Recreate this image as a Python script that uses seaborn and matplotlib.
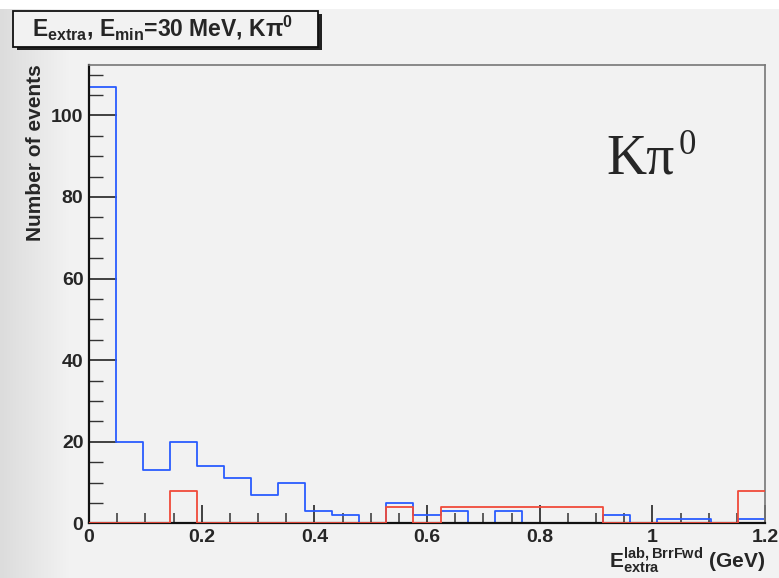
import numpy as np
import pandas as pd
import matplotlib
matplotlib.use("Agg")
import matplotlib.pyplot as plt
import seaborn as sns
from matplotlib.patches import Rectangle
from matplotlib.ticker import MultipleLocator, FixedLocator

# ---- data (25 bins of 0.048 GeV from 0 to 1.2) ----
bin_edges = [round(0.048 * i, 3) for i in range(26)]
blue_counts = [107, 20, 13, 20, 14, 11, 7, 10, 3, 2, 0, 5, 2, 3, 0, 3, 0, 0, 0, 2, 0, 1, 1, 0, 1]
red_counts = [0, 0, 0, 8, 0, 0, 0, 0, 0, 0, 0, 4, 0, 4, 4, 4, 4, 4, 4, 0, 0, 0, 0, 0, 8]
x_ticks = [0, 0.2, 0.4, 0.6, 0.8, 1.0, 1.2]
x_tick_labels = ["0", "0.2", "0.4", "0.6", "0.8", "1", "1.2"]
y_ticks = [0, 20, 40, 60, 80, 100]

edges_arr = np.array(bin_edges)
centers = 0.5 * (edges_arr[:-1] + edges_arr[1:])
df = pd.DataFrame({
    "x": np.concatenate([centers, centers]),
    "w": np.concatenate([blue_counts, red_counts]).astype(float),
    "s": ["blue"] * len(centers) + ["red"] * len(centers),
})

sns.set_style("white")
plt.rcParams["font.family"] = ["Liberation Sans", "DejaVu Sans"]
plt.rcParams["mathtext.default"] = "regular"
plt.rcParams["xtick.minor.visible"] = True
plt.rcParams["ytick.minor.visible"] = True

BG = "#f2f2f2"
fig = plt.figure(figsize=(7.79, 5.78), dpi=100, facecolor=BG)

# slide-like gradient on the left edge and white top strip
grad = np.ones((578, 779, 3)) * 0xf2 / 255
ramp = np.linspace(0, 1, 70)
for i, r in enumerate(ramp):
    grad[:, i, :] = (0xdc + (0xf2 - 0xdc) * r) / 255
grad[:9, :, :] = 1.0
fig.figimage(grad, 0, 0, zorder=-10)

ax = fig.add_axes([89 / 779, (578 - 523.3) / 578, (765 - 89) / 779, (523.3 - 65) / 578])
ax.set_zorder(1)
ax.set_facecolor(BG)

palette = {"blue": "#2a5cff", "red": "#f04a3a"}
zorders = {"blue": 2, "red": 3}
for s in ["blue", "red"]:
    sub = df[df.s == s]
    n_before = len(ax.lines)
    sns.histplot(data=sub, x="x", weights="w", bins=list(bin_edges), element="step",
                 fill=False, color=palette[s], linewidth=1.3, ax=ax)
    for ln in ax.lines[n_before:]:
        ln.set_zorder(zorders[s])

ax.set_xlim(0, 1.2)
ax.set_ylim(0, 112.35)
ax.set_xlabel("")
ax.set_ylabel("")
ax.xaxis.set_major_locator(FixedLocator(x_ticks))
ax.set_xticklabels(x_tick_labels)
ax.yaxis.set_major_locator(FixedLocator(y_ticks))
ax.xaxis.set_minor_locator(MultipleLocator(0.05))
ax.yaxis.set_minor_locator(MultipleLocator(5))
ax.tick_params(axis="both", which="both", direction="in", color="#333333",
               bottom=True, left=True, top=False, right=False)
ax.tick_params(axis="x", which="major", length=13, width=1.3, pad=4, labelsize=14)
ax.tick_params(axis="x", which="minor", length=7, width=1.1)
ax.tick_params(axis="y", which="major", length=20, width=1.3, pad=4, labelsize=14)
ax.tick_params(axis="y", which="minor", length=10, width=1.0)
for lab in ax.get_xticklabels() + ax.get_yticklabels():
    lab.set_fontweight("bold")
for side in ["left", "bottom"]:
    ax.spines[side].set_color("#111111")
    ax.spines[side].set_linewidth(1.6)
for side in ["top", "right"]:
    ax.spines[side].set_color("#777777")
    ax.spines[side].set_linewidth(1.2)
    ax.spines[side].set_visible(True)

# y label
fig.text(36 / 779, 1 - 64 / 578, "Number of events", rotation=90, ha="center", va="top",
         fontsize=15, fontweight="bold", zorder=5)
# x label
fig.text(765 / 779, 1 - 576 / 578, r"E$_{extra}^{lab,BrrFwd}$ (GeV)", ha="right", va="bottom",
         fontsize=15, fontweight="bold", zorder=5)

# big K pi0 label
fig.text(606 / 779, 1 - 173 / 578, "Kπ", fontsize=40, family="Liberation Serif",
         ha="left", va="baseline", zorder=5)
fig.text(679 / 779, 1 - 154 / 578, "0", fontsize=25, family="Liberation Serif",
         ha="left", va="baseline", zorder=5)

# title box with shadow
shadow = Rectangle((17 / 779, 1 - 50 / 578), (318 - 13) / 779, (47 - 11) / 578,
                   transform=fig.transFigure, facecolor="#222222", edgecolor="none", zorder=2)
box = Rectangle((13 / 779, 1 - 47 / 578), (318 - 13) / 779, (47 - 11) / 578,
                transform=fig.transFigure, facecolor=BG, edgecolor="#111111", linewidth=1.3, zorder=3)
fig.patches.extend([shadow, box])
fig.text(163 / 779, 1 - 28 / 578, r"E$_{extra}$, E$_{min}$=30 MeV, K$\pi^{0}$", ha="center", va="center",
         fontsize=16.5, fontweight="bold", zorder=4)

fig.savefig("out.png", dpi=100, facecolor=BG)
